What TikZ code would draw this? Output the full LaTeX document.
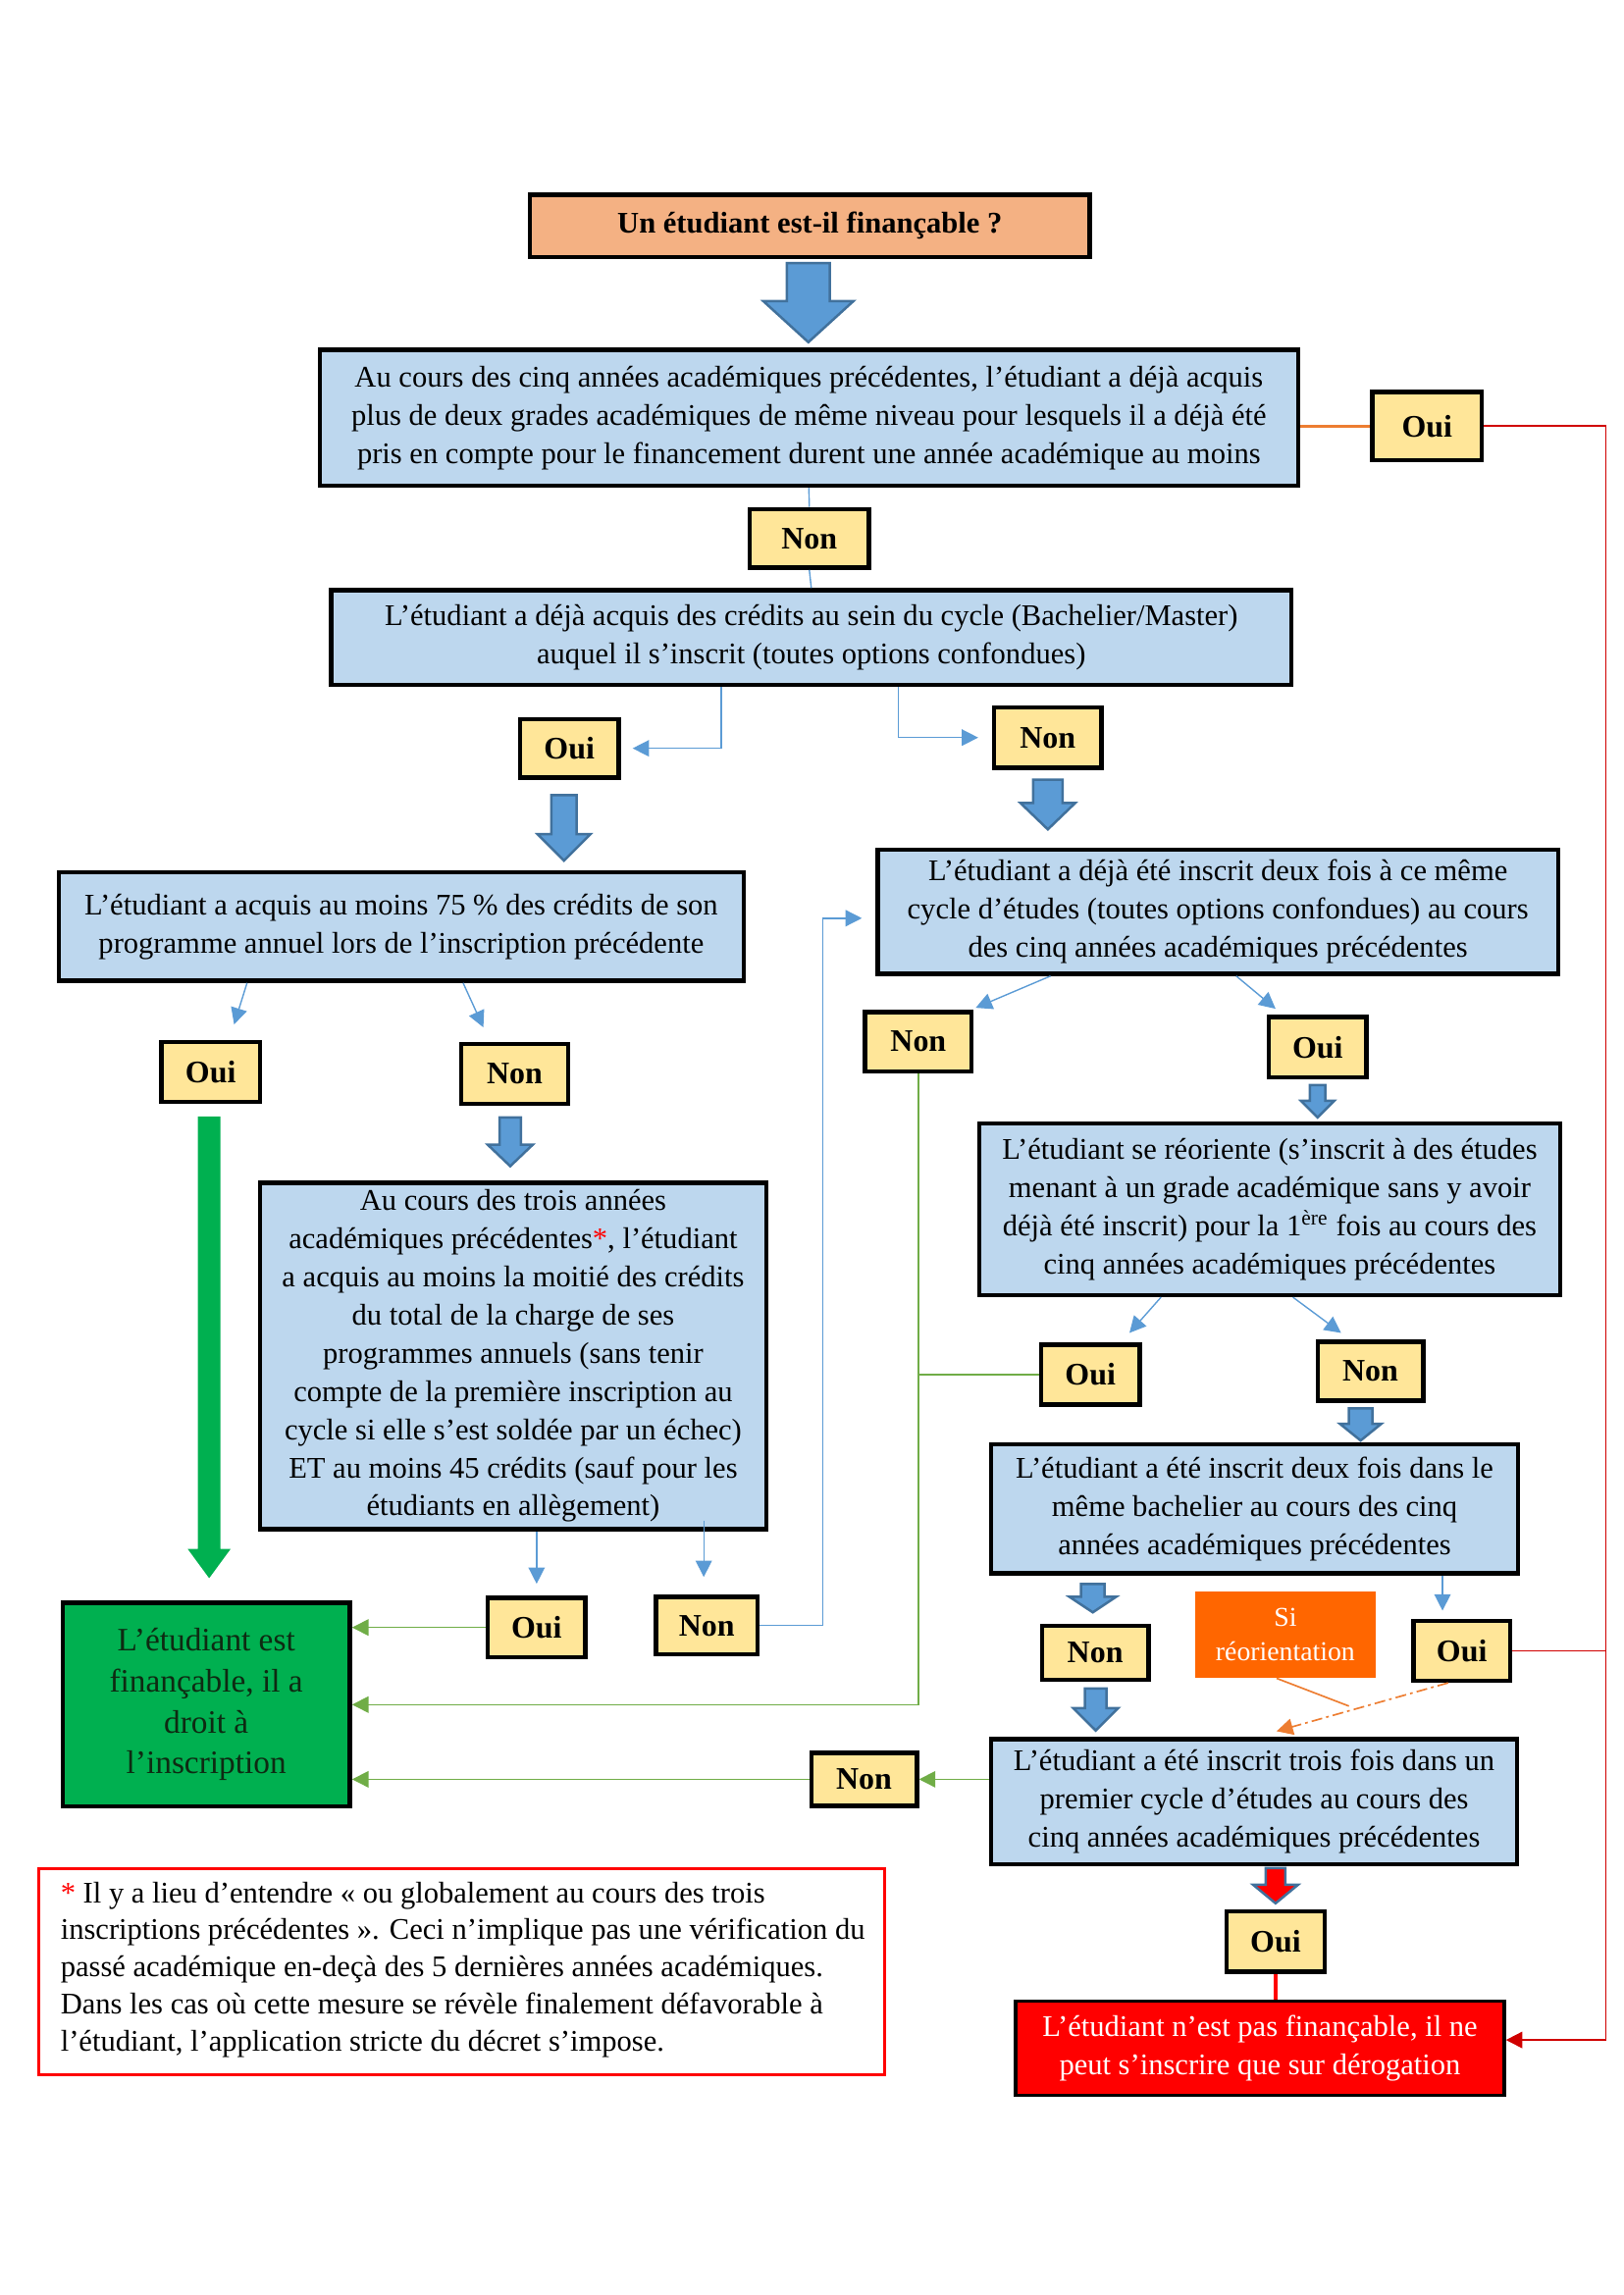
\documentclass[tikz,border=0pt]{standalone}
\usepackage{fontspec}
\setmainfont{Liberation Serif}
\usetikzlibrary{arrows.meta,calc}
\definecolor{titlefill}{HTML}{F4B183}
\definecolor{qblue}{HTML}{BDD7EE}
\definecolor{ynyellow}{HTML}{FFE699}
\definecolor{gbox}{HTML}{00B050}
\definecolor{gtext}{HTML}{0E2A12}
\definecolor{arrowfill}{HTML}{5B9BD5}
\definecolor{arrowborder}{HTML}{41719C}
\definecolor{lineblue}{HTML}{5B9BD5}
\definecolor{linegreen}{HTML}{70AD47}
\definecolor{linered}{HTML}{D00000}
\definecolor{lineorange}{HTML}{ED7D31}
\definecolor{sibox}{HTML}{FF6600}
\newcommand\bx[7]{%
  \pgfmathsetmacro\bxw{(#5-#3-4)*0.3586}%
  \pgfmathsetmacro\bxh{(#6-#4-4)*0.3582}%
  \node[#2, minimum width=\bxw pt, minimum height=\bxh pt] (#1) at ({(#3+#5)/2},{(#4+#6)/2}) {#7};}
\newcommand\blockarrow[7][]{%
  \draw[blockstyle,#1] (#2-#5,#3) -- (#2+#5,#3) -- (#2+#5,#7) -- (#2+#6,#7) -- (#2,#4) -- (#2-#6,#7) -- (#2-#5,#7) -- cycle;}
\begin{document}
\begin{tikzpicture}[x=0.3586pt,y={(0pt,-0.3582pt)},
  every node/.style={inner sep=0pt, font=\fontsize{11}{14}\selectfont},
  q/.style={draw=black, line width=1.6pt, fill=qblue, align=center},
  yn/.style={draw=black, line width=1.6pt, fill=ynyellow, font=\fontsize{11.5}{14}\selectfont\bfseries},
  blockstyle/.style={draw=arrowborder, line width=0.9pt, fill=arrowfill, line join=miter},
  tip/.style={-{Triangle[length=6pt,width=6pt]}},
  bline/.style={draw=lineblue, line width=0.5pt},
  barrow/.style={bline, tip},
  gline/.style={draw=linegreen, line width=0.5pt},
  garrow/.style={gline, tip},
  rline/.style={draw=linered, line width=0.6pt},
]
\useasboundingbox (0pt,0pt) rectangle (595.44pt,-842.04pt);
\begin{scope}[yshift=-0.54pt]

% ---------- nodes ----------
\bx{title}{draw=black, line width=1.6pt, fill=titlefill, font=\fontsize{11}{14}\selectfont\bfseries}{540}{196}{1117}{264}{Un étudiant est-il finançable ?}
\bx{box1}{q}{325}{355}{1330}{498}{Au cours des cinq années académiques précédentes, l’étudiant a déjà acquis\\plus de deux grades académiques de même niveau pour lesquels il a déjà été\\pris en compte pour le financement durent une année académique au moins}
\bx{ouir}{yn}{1402}{398}{1518}{472}{Oui}
\bx{nontop}{yn}{765}{518}{891}{582}{Non}
\bx{box2}{q}{337}{601}{1323}{702}{L’étudiant a déjà acquis des crédits au sein du cycle (Bachelier/Master)\\auquel il s’inscrit (toutes options confondues)}
\bx{ouil}{yn}{530}{733}{635}{797}{Oui}
\bx{nonr}{yn}{1015}{721}{1129}{787}{Non}
\bx{box3}{q}{58}{890}{763}{1005}{L’étudiant a acquis au moins 75 \% des crédits de son\\programme annuel lors de l’inscription précédente}
\bx{box4}{q}{896}{867}{1596}{998}{L’étudiant a déjà été inscrit deux fois à ce même\\cycle d’études (toutes options confondues) au cours\\des cinq années académiques précédentes}
\bx{ouil2}{yn}{163}{1064}{268}{1129}{Oui}
\bx{non2}{yn}{470}{1066}{583}{1131}{Non}
\bx{box5}{q}{264}{1208}{786}{1567}{Au cours des trois années\\académiques précédentes\textcolor{red}{*}, l’étudiant\\a acquis au moins la moitié des crédits\\du total de la charge de ses\\programmes annuels (sans tenir\\compte de la première inscription au\\cycle si elle s’est soldée par un échec)\\ET au moins 45 crédits (sauf pour les\\étudiants en allègement)}
\bx{ouib}{yn}{497}{1633}{601}{1698}{Oui}
\bx{nonb}{yn}{669}{1632}{777}{1695}{Non}
\bx{green}{draw=black, line width=1.6pt, fill=gbox, align=center, text=gtext, font=\fontsize{12}{15}\selectfont}{62}{1638}{360}{1851}{L’étudiant est\\finançable, il a\\droit à\\l’inscription}
\bx{nonm}{yn}{883}{1033}{996}{1098}{Non}
\bx{ouim}{yn}{1296}{1038}{1400}{1104}{Oui}
\bx{box6}{q}{1000}{1147}{1598}{1327}{L’étudiant se réoriente (s’inscrit à des études\\menant à un grade académique sans y avoir\\déjà été inscrit) pour la 1\textsuperscript{ère} fois au cours des\\cinq années académiques précédentes}
\bx{ouim2}{yn}{1063}{1374}{1168}{1439}{Oui}
\bx{nonm2}{yn}{1346}{1371}{1458}{1435}{Non}
\bx{box7}{q}{1012}{1476}{1555}{1612}{L’étudiant a été inscrit deux fois dans le\\même bachelier au cours des cinq\\années académiques précédentes}
\bx{nonl7}{yn}{1064}{1662}{1177}{1721}{Non}
\bx{si}{fill=sibox, align=center, text=white, font=\fontsize{10}{12.5}\selectfont}{1221}{1627}{1409}{1719}{Si\\réorientation}
\bx{ouir7}{yn}{1444}{1657}{1547}{1722}{Oui}
\bx{box8}{q}{1012}{1778}{1554}{1910}{L’étudiant a été inscrit trois fois dans un\\premier cycle d’études au cours des\\cinq années académiques précédentes}
\bx{nonl8}{yn}{828}{1792}{940}{1850}{Non}
\bx{ouif}{yn}{1253}{1954}{1357}{2020}{Oui}
\bx{redbox}{draw=black, line width=1.2pt, fill=red, align=center, text=white}{1037}{2046}{1541}{2147}{L’étudiant n’est pas finançable, il ne\\peut s’inscrire que sur dérogation}
\bx{fn}{draw=red, line width=1.1pt}{38}{1911}{907}{2126}{}
\node[anchor=north west, align=left, font=\fontsize{11}{13.6}\selectfont] (fntext) at ($(fn.north west)+(23,14)$) {\textcolor{red}{*} Il y a lieu d’entendre « ou globalement au cours des trois\\inscriptions précédentes ». Ceci n’implique pas une vérification du\\passé académique en-deçà des 5 dernières années académiques.\\Dans les cas où cette mesure se révèle finalement défavorable à\\l’étudiant, l’application stricte du décret s’impose.};

% ---------- block arrows ----------
\blockarrow{827}{268}{349}{22}{46}{307}
\blockarrow{577}{813}{880}{13}{27}{853}
\blockarrow{1072}{797}{848}{15}{28}{821}
\blockarrow[draw=none, fill=gbox]{214}{1142}{1615}{11.5}{22}{1585}
\blockarrow{522}{1143}{1193}{11}{23}{1171}
\blockarrow{1348}{1110}{1143}{8}{17}{1126}
\blockarrow{1392}{1441}{1474}{12}{21}{1457}
\blockarrow{1118}{1621}{1650}{12}{24}{1634}
\blockarrow{1121}{1728}{1771}{11}{23}{1748}
\blockarrow[fill=red]{1305}{1912}{1948}{10}{23}{1929}

% ---------- connectors ----------
\draw[bline] (box1.south) -- (nontop.north);
\draw[bline] (nontop.south) -- (box2.north);
\draw[draw=lineorange, line width=1.1pt] (box1.east |- ouir.west) -- (ouir.west);
\coordinate (rc1) at (1643,435);
\coordinate (rc2) at (1643,2088);
\draw[rline, tip] (ouir.east) -- (ouir.east -| rc1) -- (rc2) -- (redbox.east |- rc2);
\draw[rline] (ouir7.east) -- (ouir7.east -| rc1);

\coordinate (k1) at (738,0);
\draw[barrow] (box2.south -| k1) |- ($(ouil.east)+(12,0)$);
\coordinate (k2) at (919,0);
\draw[barrow] (box2.south -| k2) |- ($(nonr.west)+(-14,0)$);

\draw[barrow] ($(box3.south west)+(195,0)$) -- ($(ouil2.north)+(24,-16)$);
\draw[barrow] ($(box3.south west)+(416,0)$) -- ($(non2.north)+(-32,-15)$);

\draw[barrow] (box5.south -| ouib.north) -- ($(ouib.north)+(0,-12)$);
\draw[barrow] ($(nonb.north)+(-3,-76)$) -- ($(nonb.north)+(-3,-18)$);

\draw[garrow] (ouib.west) -- (ouib.west -| green.east);
\coordinate (k3) at (842,939);
\draw[barrow] (nonb.east) -| (k3) -- ($(box4.west |- k3)+(-14,0)$);

\draw[barrow] ($(box4.south west)+(179,0)$) -- ($(nonm.north east)+(2,-2)$);
\draw[barrow] ($(box4.south west)+(369,0)$) -- ($(ouim.north)+(-43,-6)$);

\draw[garrow] (nonm.south) |- (green.east);
\draw[gline] (ouim2.west) -- (ouim2.west -| nonm.south);

\draw[barrow] ($(box6.south west)+(188,0)$) -- ($(ouim2.north)+(40,-10)$);
\draw[barrow] ($(box6.south west)+(323,0)$) -- ($(nonm2.north)+(-30,-7)$);

\draw[barrow] ($(box7.south west)+(464,0)$) -- ($(box7.south west)+(464,36)$);

\coordinate (om) at (1380,1746);
\draw[draw=lineorange, line width=0.6pt, dash pattern=on 4pt off 1.5pt on 1pt off 1.5pt, tip] ($(ouir7.south)+(-14,0)$) -- ($(box8.north)+(23,-6)$);
\draw[draw=lineorange, line width=0.6pt] ($(si.south)+(-9,0)$) -- (om);

\draw[garrow] (box8.west |- nonl8.east) -- (nonl8.east);
\draw[garrow] (nonl8.west) -- (nonl8.west -| green.east);

\draw[draw=red, line width=1.3pt] (ouif.south) -- (ouif.south |- redbox.north);
\end{scope}
\end{tikzpicture}
\end{document}
